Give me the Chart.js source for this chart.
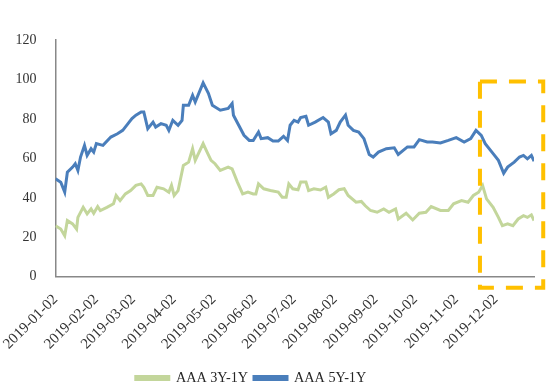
<!DOCTYPE html>
<html>
<head>
<meta charset="utf-8">
<script src="https://cdn.jsdelivr.net/npm/chart.js@4.4.1/dist/chart.umd.min.js"></script>
<style>
  html, body { margin: 0; padding: 0; background: #fff; }
  #wrap { width: 551px; height: 392px; }
</style>
</head>
<body>
<div id="wrap"><canvas id="spreadChart"></canvas></div>
<script>
// days counted from 2019-01-02
const tickDays = [0, 31, 59, 90, 120, 151, 181, 212, 243, 273, 304, 334];
const tickLabels = ['2019-01-02', '2019-02-02', '2019-03-02', '2019-04-02', '2019-05-02', '2019-06-02',
                    '2019-07-02', '2019-08-02', '2019-09-02', '2019-10-02', '2019-11-02', '2019-12-02'];

const days3y = [0,4,7,9,13,16,17,21,24,27,29,32,34,39,44,46,49,53,57,61,65,67,70,74,77,82,86,88,90,93,
                97,101,104,106,112,115,118,121,125,131,134,138,142,146,150,152,154,158,163,169,
                172,175,177,180,184,186,190,192,196,201,205,207,211,215,219,222,228,232,235,239,
                244,249,253,258,260,266,271,276,281,285,292,298,302,308,313,317,321,324,327,332,
                336,339,343,347,351,355,358,361,363];
const spread3y = [25.9,24.2,20.8,28.5,26.8,24.2,30.1,35.2,31.9,34.4,32.2,35.6,33.6,35.2,37,41.2,38.6,42,43.7,46.3,
                  47.1,45.4,41.2,41.2,45.4,44.6,42.9,46.3,41.2,43.7,56.4,58.1,64.9,59,67.5,63.2,59,57.3,53.9,55.6,
                  54.7,48,42,42.9,42,42,47.1,44.6,43.7,42.9,40.3,40.3,47.1,44.6,44.1,48,48,43.7,44.6,44,
                  45.4,40.3,42,44.1,44.6,41.2,37.8,38.2,36,33.6,32.7,34.4,32.7,34.4,29.3,32.2,28.8,32.2,32.7,35.6,
                  33.6,33.6,37,38.6,37.8,41.2,42.9,46.3,39.5,35.2,30.1,25.9,26.8,25.9,29.3,31,30.1,31.4,28.5];

const days5y = [0,4,7,9,13,15,17,19,22,24,27,29,31,36,42,47,51,55,58,61,65,67,70,74,76,80,84,86,89,93,
                96,97,101,104,106,112,116,119,125,131,134,135,139,143,147,150,154,156,161,165,
                169,173,176,178,181,184,186,190,192,197,203,207,209,213,216,220,222,226,230,234,
                238,241,245,251,257,260,267,272,276,282,286,292,298,304,310,315,319,323,326,332,
                336,340,343,348,352,355,358,361,363];
const spread5y = [49.7,47.9,42.9,53,55.6,57.3,53.9,60.7,66.6,61.5,64.9,63.2,67.5,66.6,70.8,72.5,74.2,77.6,80.2,81.9,
                  83.5,83.5,75.1,78.4,75.9,77.6,76.8,74.2,79.3,76.8,79.3,86.9,86.9,92,88.6,98.3,93,86.9,84.4,85.3,
                  87.8,81.9,76.8,71.7,69.1,69.1,73.4,70,70.5,68.8,68.8,71.2,69.1,76.8,79.3,78.4,80.7,81.3,76.8,78.4,
                  80.7,78.4,72.5,74.2,78.4,81.9,76.8,74.2,73.4,70,62,60.7,63.2,64.9,65.4,62,65.8,65.8,69.5,68.3,
                  68.3,67.8,69.1,70.5,68.3,70,74.2,71.7,67.5,62.4,59,52.5,55.6,58.1,60.7,61.5,59.8,61.5,58.6];

// highlighted box (in data units)
const boxDays = [322, 370];
const boxRange = [-5.6, 99];

const green = '#c3d69b';
const blue = '#4a7ebb';
const axisGrey = '#888888';
const serif = "'Liberation Serif', 'Times New Roman', serif";

const highlightBox = {
    id: 'highlightBox',
    afterDatasetsDraw(chart) {
        const { ctx, scales: { x, y } } = chart;
        const x0 = x.getPixelForValue(boxDays[0]), x1 = x.getPixelForValue(boxDays[1]);
        const y0 = y.getPixelForValue(boxRange[1]), y1 = y.getPixelForValue(boxRange[0]);
        ctx.save();
        ctx.strokeStyle = '#ffc000';
        ctx.lineWidth = 4;
        ctx.setLineDash([17, 12]);
        ctx.strokeRect(x0, y0, x1 - x0, y1 - y0);
        ctx.restore();
    }
};

const ctx = document.getElementById('spreadChart');
new Chart(ctx, {
    type: 'line',
    data: {
        datasets: [{
            label: 'AAA 3Y-1Y',
            data: days3y.map((d, i) => ({ x: d, y: spread3y[i] })),
            borderColor: green,
            backgroundColor: green,
            borderWidth: 3,
            pointRadius: 0,
            tension: 0
        }, {
            label: 'AAA 5Y-1Y',
            data: days5y.map((d, i) => ({ x: d, y: spread5y[i] })),
            borderColor: blue,
            backgroundColor: blue,
            borderWidth: 3,
            pointRadius: 0,
            tension: 0
        }]
    },
    options: {
        responsive: true,
        maintainAspectRatio: false,
        animation: false,
        // negative left padding pulls the legend to the left, the y axis width makes up for it
        layout: { padding: { left: -32, right: 17, top: 40, bottom: -3 } },
        plugins: {
            legend: {
                position: 'bottom',
                labels: {
                    boxWidth: 33,
                    boxHeight: 3,
                    padding: 6,
                    color: '#262626',
                    font: { family: serif, size: 14.2 }
                }
            },
            tooltip: { enabled: false }
        },
        scales: {
            x: {
                type: 'linear',
                min: 0,
                max: 363,
                grid: { display: false },
                border: { display: true, color: axisGrey, width: 1.5 },
                afterBuildTicks: axis => { axis.ticks = tickDays.map(v => ({ value: v })); },
                afterFit: axis => { axis.height = 88; },
                ticks: {
                    autoSkip: false,
                    maxRotation: 45,
                    minRotation: 45,
                    padding: 6,
                    color: '#333',
                    font: { family: serif, size: 15 },
                    callback: value => tickLabels[tickDays.indexOf(value)]
                }
            },
            y: {
                min: 0,
                max: 120,
                grid: { display: false },
                border: { display: true, color: axisGrey, width: 1.5 },
                afterFit: axis => { axis.width = 87; },
                ticks: {
                    stepSize: 20,
                    padding: 11,
                    color: '#333',
                    font: { family: serif, size: 14 }
                }
            }
        }
    },
    plugins: [highlightBox]
});
</script>
</body>
</html>
